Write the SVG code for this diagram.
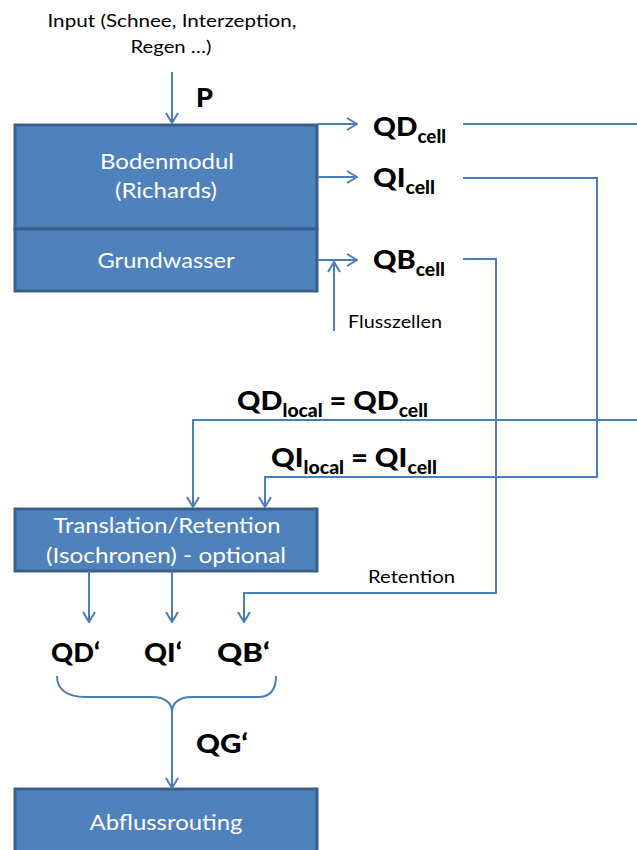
<svg xmlns="http://www.w3.org/2000/svg" width="637" height="850" viewBox="0 0 637 850">
<style>
.box{fill:#4F81BD;stroke:#3A5F8B;stroke-width:3}
.bt{font-family:Lato,"Liberation Sans",sans-serif;font-size:21px;fill:#fff;text-anchor:middle}
.lt{font-family:Lato,"Liberation Sans",sans-serif;font-size:17px;fill:#000}
.bl{font-family:Lato,"Liberation Sans",sans-serif;font-weight:900;font-size:27px;fill:#000}
.sub{font-size:18px}
.ln{fill:none;stroke:#4A7EBB;stroke-width:2}
.ar{marker-end:url(#ah)}
</style>
<defs>
<marker id="ah" viewBox="0 0 12 14" refX="11" refY="7" markerWidth="12" markerHeight="14" markerUnits="userSpaceOnUse" orient="auto">
<path d="M1,1 L11,7 L1,13" fill="none" stroke="#4A7EBB" stroke-width="2"/>
</marker>
</defs>
<rect width="637" height="850" fill="#fff"/>

<g id="input">
<text class="lt" x="172" y="27" text-anchor="middle" textLength="249" lengthAdjust="spacingAndGlyphs">Input (Schnee, Interzeption,</text>
<text class="lt" x="171" y="53" text-anchor="middle" textLength="81" lengthAdjust="spacingAndGlyphs">Regen …)</text>
</g>

<g id="bodenmodul">
<rect class="box" x="15" y="125" width="302" height="104"/>
<text class="bt" x="167" y="169" textLength="134" lengthAdjust="spacingAndGlyphs">Bodenmodul</text>
<text class="bt" x="166" y="198" textLength="102" lengthAdjust="spacingAndGlyphs">(Richards)</text>
</g>
<g id="grundwasser">
<rect class="box" x="15" y="229" width="302" height="62"/>
<text class="bt" x="166" y="268" textLength="137" lengthAdjust="spacingAndGlyphs">Grundwasser</text>
</g>

<g id="translation">
<rect class="box" x="15" y="509" width="302" height="62"/>
<text class="bt" x="167" y="533" textLength="227" lengthAdjust="spacingAndGlyphs">Translation/Retention</text>
<text class="bt" x="166" y="563" textLength="240" lengthAdjust="spacingAndGlyphs">(Isochronen) - optional</text>
</g>

<g id="abflussrouting">
<rect class="box" x="15" y="789" width="302" height="70"/>
<text class="bt" x="166" y="830" textLength="153" lengthAdjust="spacingAndGlyphs">Abflussrouting</text>
</g>

<g id="labels">
<text class="bl" x="196" y="107" textLength="17" lengthAdjust="spacingAndGlyphs">P</text>
<text class="bl" x="373" y="136" textLength="73" lengthAdjust="spacingAndGlyphs">QD<tspan class="sub" dy="7">cell</tspan></text>
<text class="bl" x="373" y="187" textLength="62" lengthAdjust="spacingAndGlyphs">QI<tspan class="sub" dy="7">cell</tspan></text>
<text class="bl" x="373" y="269" textLength="72" lengthAdjust="spacingAndGlyphs">QB<tspan class="sub" dy="7">cell</tspan></text>
<text class="lt" x="348" y="328" textLength="94" lengthAdjust="spacingAndGlyphs">Flusszellen</text>
<text class="bl" x="237" y="410" textLength="191" lengthAdjust="spacingAndGlyphs">QD<tspan class="sub" dy="7">local</tspan><tspan dy="-7"> = QD</tspan><tspan class="sub" dy="7">cell</tspan></text>
<text class="bl" x="271" y="467" textLength="166" lengthAdjust="spacingAndGlyphs">QI<tspan class="sub" dy="7">local</tspan><tspan dy="-7"> = QI</tspan><tspan class="sub" dy="7">cell</tspan></text>
<text class="lt" x="368" y="583" textLength="87" lengthAdjust="spacingAndGlyphs">Retention</text>
<text class="bl" x="51" y="662" textLength="49" lengthAdjust="spacingAndGlyphs">QD‘</text>
<text class="bl" x="144" y="662" textLength="38" lengthAdjust="spacingAndGlyphs">QI‘</text>
<text class="bl" x="217" y="662" textLength="53" lengthAdjust="spacingAndGlyphs">QB‘</text>
<text class="bl" x="196" y="753" textLength="52" lengthAdjust="spacingAndGlyphs">QG‘</text>
</g>

<g id="connectors">
<line class="ln ar" x1="172" y1="72" x2="172" y2="123"/>
<line class="ln ar" x1="318" y1="124" x2="357" y2="124"/>
<line class="ln ar" x1="318" y1="177" x2="357" y2="177"/>
<line class="ln ar" x1="318" y1="260" x2="357" y2="260"/>
<line class="ln ar" x1="334" y1="331" x2="334" y2="262"/>
<line class="ln" x1="463" y1="124" x2="637" y2="124"/>
<polyline class="ln ar" points="463,178 597,178 597,477 265,477 265,507"/>
<polyline class="ln ar" points="463,259 496,259 496,593 244,593 244,622"/>
<polyline class="ln ar" points="637,420 193,420 193,507"/>
<line class="ln ar" x1="89" y1="571" x2="89" y2="622"/>
<line class="ln ar" x1="172" y1="571" x2="172" y2="622"/>
<path class="ln" d="M57,676 C57,690 68,697 85,697 L152,697 C165,697 172,703 172,712 C172,703 179,697 192,697 L258,697 C270,697 276,690 276,676"/>
<line class="ln ar" x1="172" y1="712" x2="172" y2="788"/>
</g>
</svg>
